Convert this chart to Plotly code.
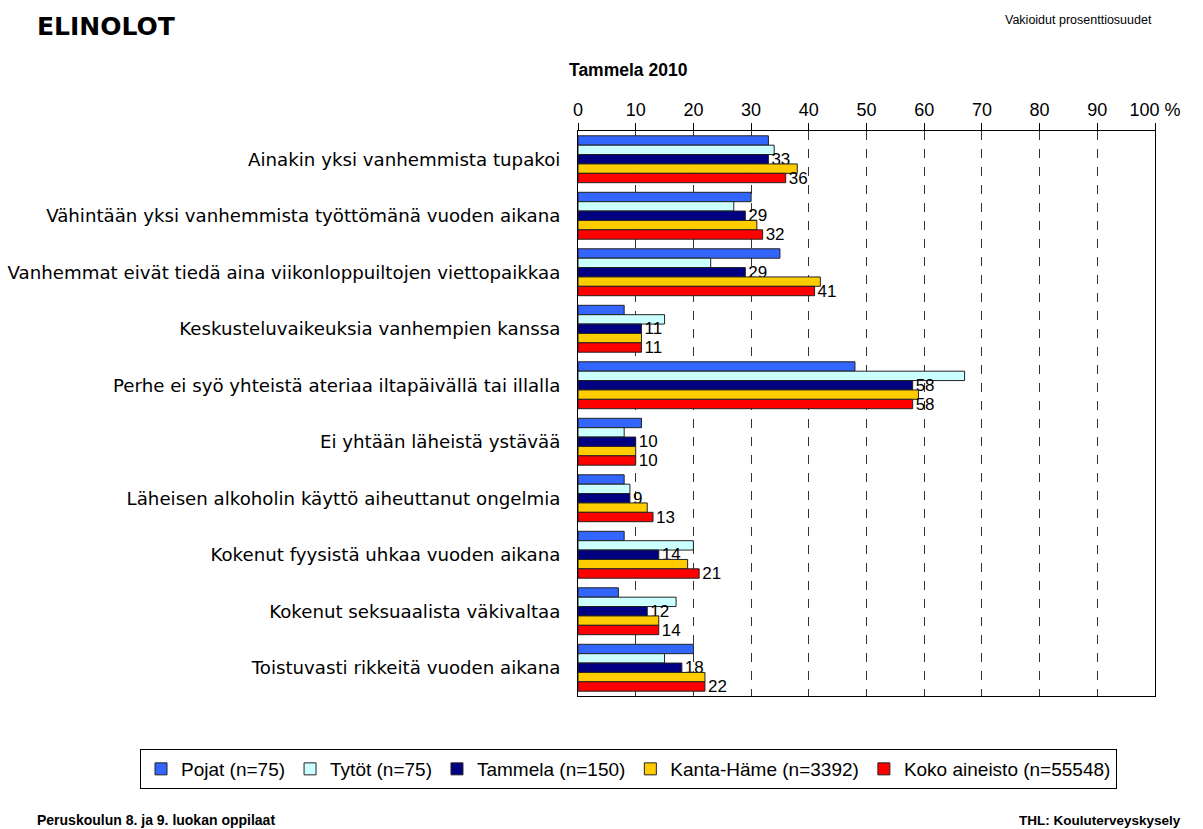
import plotly.graph_objects as go

categories = [
    "Ainakin yksi vanhemmista tupakoi",
    "Vähintään yksi vanhemmista työttömänä vuoden aikana",
    "Vanhemmat eivät tiedä aina viikonloppuiltojen viettopaikkaa",
    "Keskusteluvaikeuksia vanhempien kanssa",
    "Perhe ei syö yhteistä ateriaa iltapäivällä tai illalla",
    "Ei yhtään läheistä ystävää",
    "Läheisen alkoholin käyttö aiheuttanut ongelmia",
    "Kokenut fyysistä uhkaa vuoden aikana",
    "Kokenut seksuaalista väkivaltaa",
    "Toistuvasti rikkeitä vuoden aikana",
]
pojat = [33, 30, 35, 8, 48, 11, 8, 8, 7, 20]
tytot = [34, 27, 23, 15, 67, 8, 9, 20, 17, 15]
tammela = [33, 29, 29, 11, 58, 10, 9, 14, 12, 18]
kanta_hame = [38, 31, 42, 11, 59, 10, 12, 19, 14, 22]
koko = [36, 32, 41, 11, 58, 10, 13, 21, 14, 22]

series_names = ["Pojat (n=75)", "Tytöt (n=75)", "Tammela (n=150)",
                "Kanta-Häme (n=3392)", "Koko aineisto (n=55548)"]
series_values = [pojat, tytot, tammela, kanta_hame, koko]
colors = ["#3366FF", "#CCFFFF", "#000080", "#FFCC00", "#FF0000"]
labelled = [False, False, True, False, True]
tick_vals = [0, 10, 20, 30, 40, 50, 60, 70, 80, 90, 100]
tick_text = ["0", "10", "20", "30", "40", "50", "60", "70", "80", "90", "100 %"]

ARIAL = "Liberation Sans, Arial, sans-serif"
WIDE = "DejaVu Sans, Verdana, sans-serif"

W, H = 1203, 829
L, R, T, B = 578, 48, 131, 133
PW, PH = W - L - R, H - T - B

fig = go.Figure()
for name, vals, col, lab in zip(series_names, series_values, colors, labelled):
    fig.add_trace(go.Bar(
        y=categories, x=vals, name=name, orientation="h",
        marker=dict(color=col, line=dict(color="#222222", width=1)),
        text=[str(v) for v in vals] if lab else None,
        textposition="outside" if lab else "none",
        constraintext="none",
        cliponaxis=False,
        textfont=dict(family=ARIAL, size=17, color="#000000"),
        hoverinfo="x+name",
    ))

fig.update_layout(
    width=W, height=H,
    barmode="group", bargap=0.17, bargroupgap=0,
    paper_bgcolor="white", plot_bgcolor="white",
    margin=dict(l=L, r=R, t=T, b=B, autoexpand=False),
    font=dict(family=ARIAL, size=15, color="#000000"),
    showlegend=True,
    legend=dict(orientation="h", xref="paper", yref="paper",
                x=(140 - L) / PW, xanchor="left",
                y=1 - (749 - T) / PH, yanchor="top",
                bordercolor="#000000", borderwidth=1,
                font=dict(family=ARIAL, size=19),
                itemwidth=30, tracegroupgap=0),
    xaxis=dict(side="top", range=[0, 100], tickvals=tick_vals, ticktext=tick_text,
               showgrid=True, gridcolor="#333333", griddash="dash", gridwidth=1,
               showline=True, linecolor="#000000", linewidth=1, mirror=True,
               ticks="outside", ticklen=7, tickcolor="#000000",
               tickfont=dict(family=ARIAL, size=18), zeroline=False,
               automargin=False, fixedrange=True),
    yaxis=dict(autorange="reversed", showline=True, linecolor="#000000",
               linewidth=1, mirror=True, ticks="", ticklabelstandoff=13,
               tickfont=dict(family=WIDE, size=18.2), automargin=False,
               fixedrange=True),
)

ann = [
    dict(text="<b>ELINOLOT</b>", x=35, y=27, size=25, anchor="left", fam=WIDE),
    dict(text="Vakioidut prosenttiosuudet", x=1003, y=20, size=12.5, anchor="left", fam=ARIAL),
    dict(text="<b>Tammela 2010</b>", x=628, y=70, size=17.5, anchor="center", fam=ARIAL),
    dict(text="<b>Peruskoulun 8. ja 9. luokan oppilaat</b>", x=35, y=820, size=14, anchor="left", fam=ARIAL),
    dict(text="<b>THL: Kouluterveyskysely</b>", x=1183, y=820, size=13.5, anchor="right", fam=ARIAL),
]
for a in ann:
    fig.add_annotation(
        text=a["text"], xref="paper", yref="paper",
        x=(a["x"] - L) / PW,
        y=1 - (a["y"] - T) / PH,
        xanchor=a["anchor"], yanchor="middle", showarrow=False,
        font=dict(family=a["fam"], size=a["size"], color="#000000"),
    )

fig.write_html("out.html",
               config={"displayModeBar": False},
               post_script="document.body.style.margin='0';document.body.style.padding='0';")
